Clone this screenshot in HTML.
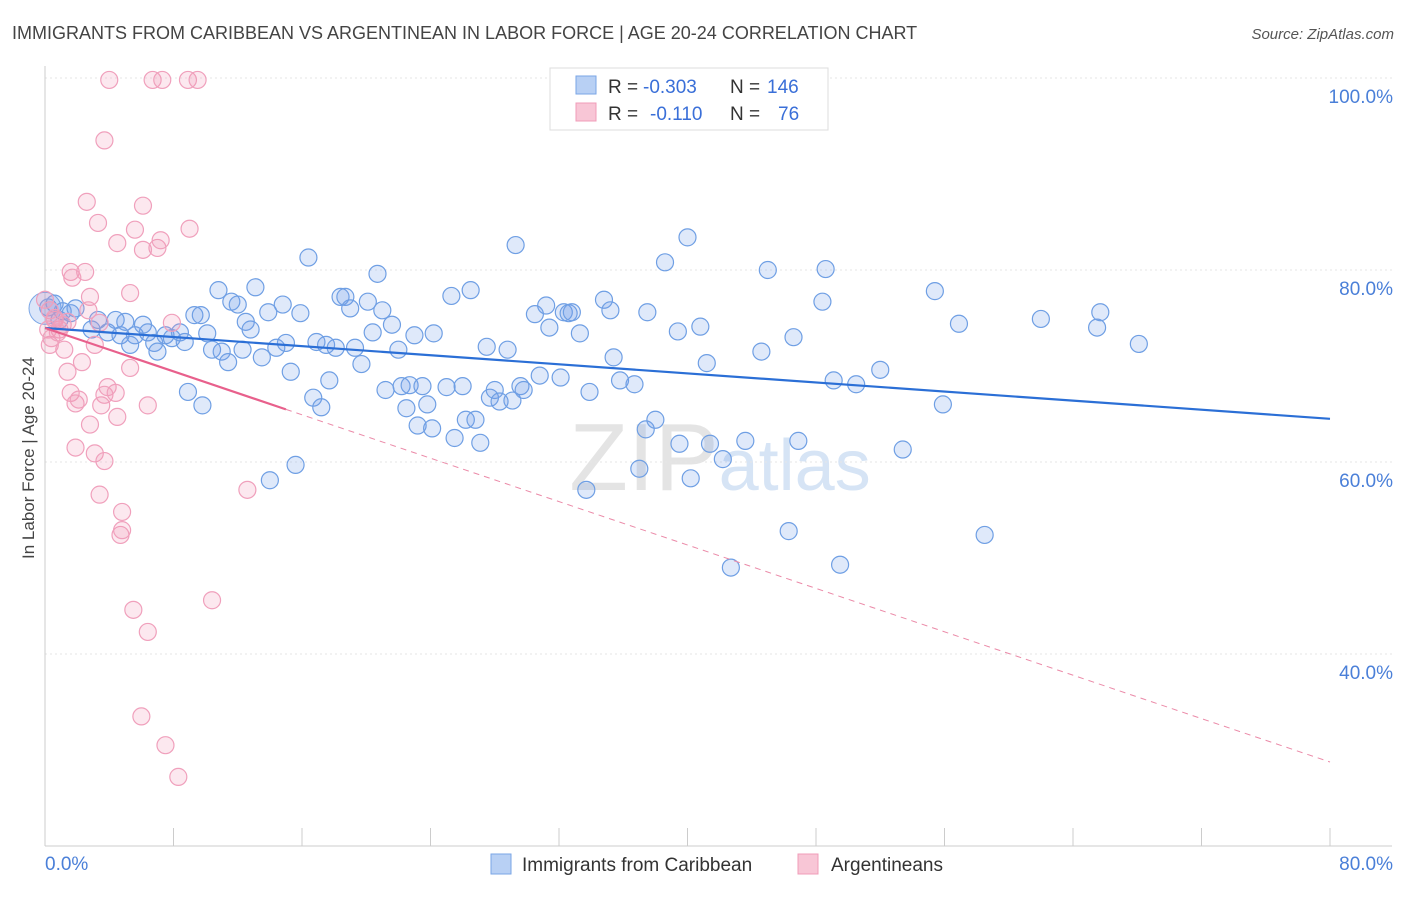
<!DOCTYPE html>
<html><head><meta charset="utf-8">
<style>
body{margin:0;background:#fff;font-family:"Liberation Sans",sans-serif;}
svg text{font-family:"Liberation Sans",sans-serif;}
</style></head>
<body>
<svg id="chart" width="1406" height="892" xmlns="http://www.w3.org/2000/svg">
<text x="12" y="39" font-size="18" fill="#444">IMMIGRANTS FROM CARIBBEAN VS ARGENTINEAN IN LABOR FORCE | AGE 20-24 CORRELATION CHART</text>
<text x="1394" y="39" font-size="15" fill="#555" font-style="italic" text-anchor="end">Source: ZipAtlas.com</text>
<text x="720" y="490" font-size="96" fill="#e4e4e4" text-anchor="middle" font-family="Liberation Serif">ZIP<tspan fill="#d6e4f5" font-family="Liberation Sans" font-size="72">atlas</tspan></text>
<g id="grid"></g>
<g id="axes"></g>
<g id="pts"></g>
<g id="lines"></g>
<text transform="translate(34,458) rotate(-90)" font-size="17" fill="#444" text-anchor="middle">In Labor Force | Age 20-24</text>
<g>
<rect x="550" y="68" width="278" height="62" fill="#fff" stroke="#ddd"/>
<rect x="576" y="76" width="20" height="18" fill="#b8d0f4" stroke="#7aa6e6"/>
<rect x="576" y="103" width="20" height="18" fill="#f8c6d6" stroke="#f09cb8"/>
<text x="608" y="93" font-size="19" fill="#333">R =</text>
<text x="643" y="93" font-size="19" fill="#3a6fd8">-0.303</text>
<text x="730" y="93" font-size="19" fill="#333">N =</text>
<text x="767" y="93" font-size="19" fill="#3a6fd8">146</text>
<text x="608" y="120" font-size="19" fill="#333">R =</text>
<text x="650" y="120" font-size="19" fill="#3a6fd8">-0.110</text>
<text x="730" y="120" font-size="19" fill="#333">N =</text>
<text x="778" y="120" font-size="19" fill="#3a6fd8">76</text>
</g>
<g>
<rect x="491" y="854" width="20" height="20" fill="#b8d0f4" stroke="#7aa6e6"/>
<text x="522" y="871" font-size="19" fill="#333">Immigrants from Caribbean</text>
<rect x="798" y="854" width="20" height="20" fill="#f8c6d6" stroke="#f09cb8"/>
<text x="831" y="871" font-size="19" fill="#333">Argentineans</text>
</g>
</svg>
<script>
const blueX=[0.2,0.6,1.1,1.6,1.9,0.9,2.9,3.3,3.9,4.4,4.7,5.0,5.3,5.6,6.1,6.4,6.8,7.0,7.5,7.9,8.4,8.7,8.9,9.3,9.7,9.8,10.1,10.4,10.8,11.0,11.4,11.6,12.0,12.3,12.5,12.8,13.1,13.5,13.9,14.0,14.4,14.8,15.0,15.3,15.6,15.9,16.4,16.7,16.9,17.2,17.5,17.7,18.1,18.4,18.7,19.0,19.3,19.7,20.1,20.4,20.7,21.0,21.2,21.6,22.0,22.2,22.5,22.7,23.0,23.2,23.5,23.8,24.1,24.2,25.0,25.3,25.5,26.0,26.2,26.5,26.8,27.1,27.5,27.7,28.0,28.3,28.8,29.1,29.3,29.6,29.8,30.5,30.8,31.2,31.4,32.1,32.3,32.6,32.8,33.3,33.7,33.9,34.8,35.2,35.4,35.8,36.7,37.0,37.4,37.5,38.0,38.6,39.4,39.5,40.0,40.2,40.8,41.2,41.4,42.2,42.7,43.6,44.6,45.0,46.3,46.6,46.9,48.4,48.6,49.1,49.5,50.5,52.0,53.4,55.4,55.9,56.9,58.5,62.0,65.5,65.7,68.1];
const blueY=[76.1,76.5,75.7,75.5,76.0,74.8,73.8,74.8,73.5,74.8,73.2,74.6,72.2,73.2,74.3,73.5,72.4,71.5,73.2,72.9,73.5,72.5,67.3,75.3,75.3,65.9,73.4,71.7,77.9,71.5,70.4,76.7,76.4,71.7,74.6,73.8,78.2,70.9,75.6,58.1,71.9,76.4,72.4,69.4,59.7,75.5,81.3,66.7,72.5,65.7,72.2,68.5,71.9,77.2,77.2,76.0,71.9,70.2,76.7,73.5,79.6,75.8,67.5,74.3,71.7,67.9,65.6,68.0,73.2,63.8,67.9,66.0,63.5,73.4,67.8,77.3,62.5,67.9,64.4,77.9,64.4,62.0,72.0,66.7,67.5,66.3,71.7,66.4,82.6,67.9,67.5,75.4,69.0,76.3,74.0,68.8,75.6,75.5,75.6,73.4,57.1,67.3,76.9,75.8,70.9,68.5,68.1,59.3,63.4,75.6,64.4,80.8,73.6,61.9,83.4,58.3,74.1,70.3,61.9,60.3,49.0,62.2,71.5,80.0,52.8,73.0,62.2,76.7,80.1,68.5,49.3,68.1,69.6,61.3,77.8,66.0,74.4,52.4,74.9,74.0,75.6,72.3];
const pinkX=[4.0,6.7,7.3,8.9,9.5,3.7,2.6,6.1,3.3,5.6,9.0,4.5,7.0,7.2,6.1,1.6,2.5,1.7,2.8,5.3,2.7,0.3,0.6,0.9,0.3,1.2,3.4,3.1,7.9,2.3,1.4,5.3,3.9,3.7,4.4,1.6,1.9,2.1,3.5,6.4,4.5,2.8,1.9,3.1,3.7,3.4,12.6,4.8,4.7,4.8,10.4,5.5,6.4,6.0,7.5,8.3,0.0,0.2,0.6,1.1,1.4,0.4,0.8];
const pinkY=[99.8,99.8,99.8,99.8,99.8,93.5,87.1,86.7,84.9,84.2,84.3,82.8,82.3,83.1,82.1,79.8,79.8,79.2,77.2,77.6,75.8,75.8,74.8,73.8,72.2,71.7,74.5,72.2,74.5,70.4,69.4,69.8,67.8,67.0,67.2,67.2,66.1,66.5,65.9,65.9,64.7,63.9,61.5,60.9,60.1,56.6,57.1,54.8,52.4,52.9,45.6,44.6,42.3,33.5,30.5,27.2,76.9,73.8,75.0,74.3,74.6,72.9,73.5];
const blueTrend=[73.96,64.5];
const pinkTrend=[73.96,28.75];
const pinkSolidEnd=15;
const yTicks=[40,60,80,100];
const xTickLabels=["0.0%","80.0%"];

const NS="http://www.w3.org/2000/svg";
const X0=45,X1=1330,Y100=78,PXPER=9.6,YBOT=846;
function xs(v){return X0+(v/80)*(X1-X0);}
function ys(v){return Y100+(100-v)*PXPER;}
function mk(tag,attrs,parent){const e=document.createElementNS(NS,tag);for(const k in attrs)e.setAttribute(k,attrs[k]);parent.appendChild(e);return e;}
const grid=document.getElementById('grid'),axes=document.getElementById('axes'),pts=document.getElementById('pts'),lines=document.getElementById('lines');
yTicks.forEach(t=>{
  const l=mk('line',{x1:X0,x2:1392,y1:ys(t),y2:ys(t),stroke:'#e6e6e6','stroke-dasharray':'2,3'},grid);
  
  
  const tx=mk('text',{x:1393,y:ys(t)+25,'font-size':19,fill:'#4a7fd8','text-anchor':'end'},axes);
  tx.textContent=t.toFixed(1)+'%';
  
  
});
mk('line',{x1:X0,x2:X0,y1:66,y2:YBOT,stroke:'#ccc'},axes);
mk('line',{x1:X0,x2:1392,y1:YBOT,y2:YBOT,stroke:'#ccc'},axes);
for(let i=0;i<=10;i++){
  const t=mk('line',{x1:xs(i*8),x2:xs(i*8),y1:YBOT,y2:YBOT-18,stroke:'#ccc'},axes);
  
  
}
const xl0=mk('text',{x:45,y:870,'font-size':19,fill:'#4a7fd8'},axes);xl0.textContent=xTickLabels[0];


const xl1=mk('text',{x:1393,y:870,'font-size':19,fill:'#4a7fd8','text-anchor':'end'},axes);xl1.textContent=xTickLabels[1];


const big=mk('circle',{cx:xs(0),cy:ys(76),r:16,fill:'rgba(110,155,230,0.25)',stroke:'#7aa6e6'},pts);


blueX.forEach((x,i)=>{
  const c=mk('circle',{cx:xs(x),cy:ys(blueY[i]),r:8.5,fill:'rgba(110,155,230,0.22)',stroke:'#6f9fe4','stroke-width':1.2},pts);
  
  
});
pinkX.forEach((x,i)=>{
  const c=mk('circle',{cx:xs(x),cy:ys(pinkY[i]),r:8.5,fill:'rgba(240,150,180,0.22)',stroke:'#f0a0bc','stroke-width':1.2},pts);
  
  
});
const bl=mk('line',{x1:xs(0),y1:ys(blueTrend[0]),x2:xs(80),y2:ys(blueTrend[1]),stroke:'#2b6fd6','stroke-width':2.2},lines);


const pAt=v=>pinkTrend[0]+(pinkTrend[1]-pinkTrend[0])*v/80;
const ps=mk('line',{x1:xs(0),y1:ys(pinkTrend[0]),x2:xs(pinkSolidEnd),y2:ys(pAt(pinkSolidEnd)),stroke:'#e8608c','stroke-width':2.2},lines);


const pd=mk('line',{x1:xs(pinkSolidEnd),y1:ys(pAt(pinkSolidEnd)),x2:xs(80),y2:ys(pinkTrend[1]),stroke:'#eb8aa8','stroke-width':1,'stroke-dasharray':'6,5'},lines);


</script>
</body></html>
